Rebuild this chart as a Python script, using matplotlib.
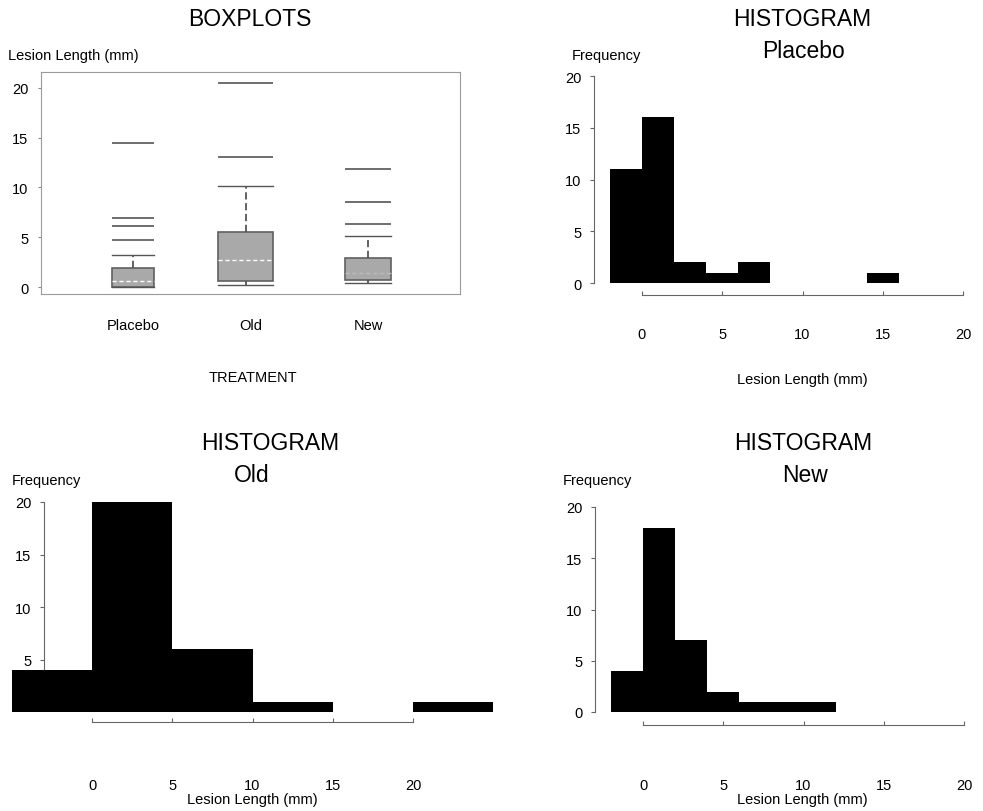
import matplotlib
matplotlib.use("Agg")
import matplotlib.pyplot as plt

plt.rcParams['font.family'] = ['Liberation Sans', 'DejaVu Sans']

W, H = 983, 812

# boxplot summaries (mm)
groups = ['Placebo', 'Old', 'New']
q1 = [0.05, 0.6, 0.7]
med = [0.6, 2.7, 1.4]
q3 = [1.9, 5.5, 2.9]
whislo = [0.05, 0.2, 0.4]
whishi = [3.2, 10.1, 5.1]
fliers = [[4.7, 6.1, 6.9, 14.5], [13.1, 20.5], [6.3, 8.5, 11.9]]

# histograms: left bin edges and frequencies
placebo_edges = [-2, 0, 2, 4, 6, 14]
placebo_freq = [11, 16, 2, 1, 2, 1]
placebo_width = 2
old_edges = [-5, 0, 5, 10, 20]
old_freq = [4, 20, 6, 1, 1]
old_width = 5
new_edges = [-2, 0, 2, 4, 6, 8, 10]
new_freq = [4, 18, 7, 2, 1, 1, 1]
new_width = 2

fig = plt.figure(figsize=(W / 100, H / 100), dpi=100)


def ftext(x, y, s, size, ha='center'):
    fig.text(x / W, 1 - y / H, s, ha=ha, va='center', fontsize=size)


def px_axes(left, top, right, bottom):
    return fig.add_axes([left / W, 1 - bottom / H, (right - left) / W, (bottom - top) / H])


# ---- boxplots ----
ax = px_axes(41, 73, 460, 295)
pos = [1, 1.96, 3]
widths = [0.36, 0.47, 0.39]
stats = []
for i in range(3):
    stats.append(dict(med=med[i], q1=q1[i], q3=q3[i], whislo=whislo[i],
                      whishi=whishi[i], fliers=[]))
parts = ax.bxp(stats, positions=pos, widths=widths, capwidths=widths,
               showfliers=False, patch_artist=True,
               boxprops=dict(facecolor='#a9a9a9', edgecolor='#606060', lw=1.2),
               medianprops=dict(color='white', ls=(0, (3, 2)), lw=1),
               whiskerprops=dict(color='#555555', ls=(0, (4, 2)), lw=1.3),
               capprops=dict(color='#555555', lw=1))
parts['medians'][2].set_color('#bdbdbd')
for i in range(3):
    ax.hlines(fliers[i], pos[i] - widths[i] / 2, pos[i] + widths[i] / 2,
              color='#555555', lw=1.2)
ax.set_xlim(0.217, 3.783)
ax.set_ylim(-0.7, 21.6)
ax.set_xticks([1, 2, 3])
ax.set_xticklabels(groups)
ax.set_yticks([0, 5, 10, 15, 20])
for s in ax.spines.values():
    s.set_color('#9a9a9a')
    s.set_linewidth(0.8)
ax.tick_params(axis='x', length=0, pad=17, labelsize=10.5)
ax.tick_params(axis='y', length=2, color='#888888', pad=7, labelsize=10.5)

ftext(250, 20, 'BOXPLOTS', 16.5)
ftext(8, 56, 'Lesion Length (mm)', 10.5, ha='left')
ftext(253, 378, 'TREATMENT', 10.5)


# ---- histograms ----
def hist_axes(x0, sx, y0, sy, xlim, ylim):
    # x0, y0: pixel of data zero; sx, sy: pixels per unit
    left = x0 + sx * xlim[0]
    right = x0 + sx * xlim[1]
    top = y0 - sy * ylim[1]
    bottom = y0 - sy * ylim[0]
    a = px_axes(left, top, right, bottom)
    a.set_xlim(xlim)
    a.set_ylim(ylim)
    return a


def style_hist(a, xaxis_y, xpad, yticks):
    a.spines['top'].set_visible(False)
    a.spines['right'].set_visible(False)
    a.spines['left'].set_position(('data', -3))
    a.spines['left'].set_bounds(0, 20)
    a.spines['bottom'].set_position(('data', xaxis_y))
    a.spines['bottom'].set_bounds(0, 20)
    for s in ('left', 'bottom'):
        a.spines[s].set_color('#666666')
        a.spines[s].set_linewidth(0.8)
    a.set_xticks([0, 5, 10, 15, 20])
    a.set_yticks(yticks)
    a.tick_params(axis='x', direction='in', length=3, color='#666666', pad=xpad, labelsize=10.5)
    a.tick_params(axis='y', direction='out', length=3, color='#666666', pad=6, labelsize=10.5)
    a.patch.set_visible(False)


ax = hist_axes(642, 16.05, 284, 10.35, (-3.2, 21), (-1.6, 21))
ax.bar(placebo_edges, placebo_freq, width=placebo_width, align='edge', color='black', zorder=3)
style_hist(ax, -1.16, 23, [0, 5, 10, 15, 20])
ftext(802, 19, 'HISTOGRAM', 16.5)
ftext(803, 52, 'Placebo', 16.5)
ftext(606, 56, 'Frequency', 10.5)
ftext(802, 380, 'Lesion Length (mm)', 10.5)

ax = hist_axes(92, 16.05, 713, 10.5, (-5.2, 25.3), (-1.5, 21))
ax.bar(old_edges, old_freq, width=old_width, align='edge', color='black', zorder=3)
style_hist(ax, -0.95, 40, [5, 10, 15, 20])
ax.spines['left'].set_bounds(4, 20)
ftext(270, 444, 'HISTOGRAM', 16.5)
ftext(252, 476, 'Old', 16.5)
ftext(46, 481, 'Frequency', 10.5)
ftext(252, 800, 'Lesion Length (mm)', 10.5)

ax = hist_axes(643, 16.05, 713, 10.25, (-3.2, 21), (-1.6, 21))
ax.bar(new_edges, new_freq, width=new_width, align='edge', color='black', zorder=3)
style_hist(ax, -1.27, 38, [0, 5, 10, 15, 20])
ftext(803, 444, 'HISTOGRAM', 16.5)
ftext(805, 476, 'New', 16.5)
ftext(597, 481, 'Frequency', 10.5)
ftext(802, 800, 'Lesion Length (mm)', 10.5)

fig.savefig('out.png', dpi=100)
